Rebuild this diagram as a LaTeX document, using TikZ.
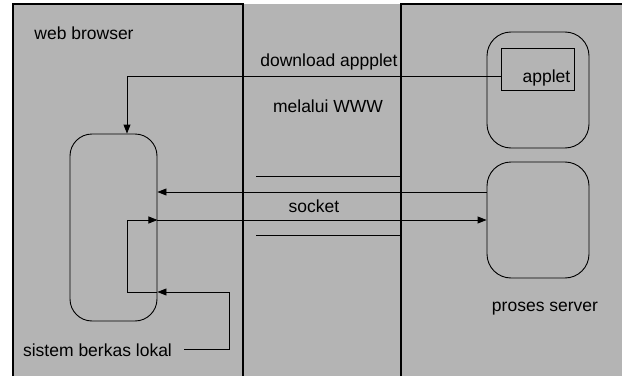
\documentclass[tikz,border=0pt]{standalone}
\usepackage{fontspec}
\setmainfont{Liberation Sans}
\usetikzlibrary{arrows.meta,positioning,calc}
\definecolor{panelgray}{RGB}{180,180,180}

\begin{document}
\begin{tikzpicture}[x=1pt,y=1pt,>={Triangle[length=9pt,width=7pt]},
 proc/.style={draw,line width=0.9pt,rounded corners=24pt,minimum width=102pt,minimum height=116pt,inner sep=0pt},
 txt/.style={font=\fontsize{17.5}{20}\selectfont,inner sep=2pt},
 arr/.style={->,line width=0.9pt},wall/.style={line width=1.3pt}]
\useasboundingbox (0,0) rectangle (622,376);
\fill[panelgray] (13,0) rectangle (622,372);
\draw[wall] (13,0) -- (13,372) -- (243,372) -- (243,0);
\draw[wall] (401,0) -- (401,372) -- (622,372);
% processes
\node[proc,minimum width=87pt,minimum height=187pt,rounded corners=22pt] (client) at (113.5,148.5) {};
\node[proc] (host) at (538,286) {};
\node[proc] (server) at (538,156) {};
\node[draw,line width=0.9pt,minimum width=73pt,minimum height=42pt,inner sep=0pt,
 label={[txt,anchor=south east,inner sep=4pt]south east:applet}] (applet) at (537.5,307) {};
% labels
\node[txt,anchor=base] (browser) at (84,337) {web browser};
\node[txt,anchor=base] (download) at (329,309) {download appplet};
\node[txt,anchor=base] (www) at (328,264) {melalui WWW};
\node[txt,anchor=base] (socket) at (314,164) {socket};
\node[txt,anchor=base] (serverlbl) at (545,65) {proses server};
\node[txt,anchor=base] (lokal) at (97.5,20) {sistem berkas lokal};
% channel
\draw[line width=0.9pt] (256,200) -- (401,200);
\draw[line width=0.9pt] (256,141) -- (401,141);
% connections
\draw[arr] ([yshift=-7pt]applet.west) -| ([xshift=13.5pt]client.north);
\draw[arr] ([yshift=28pt]server.west) -- ([yshift=35.5pt]client.east);
\draw[arr] ([xshift=10pt]lokal.east) -- ++(45,0) |- ([yshift=-64.5pt]client.east);
\draw[arr] ([yshift=-64.5pt]client.east) -- ++(-30,0) |- ([yshift=7.5pt]client.east);
\draw[arr] ([yshift=7.5pt]client.east) -- (server.west);
\end{tikzpicture}
\end{document}
